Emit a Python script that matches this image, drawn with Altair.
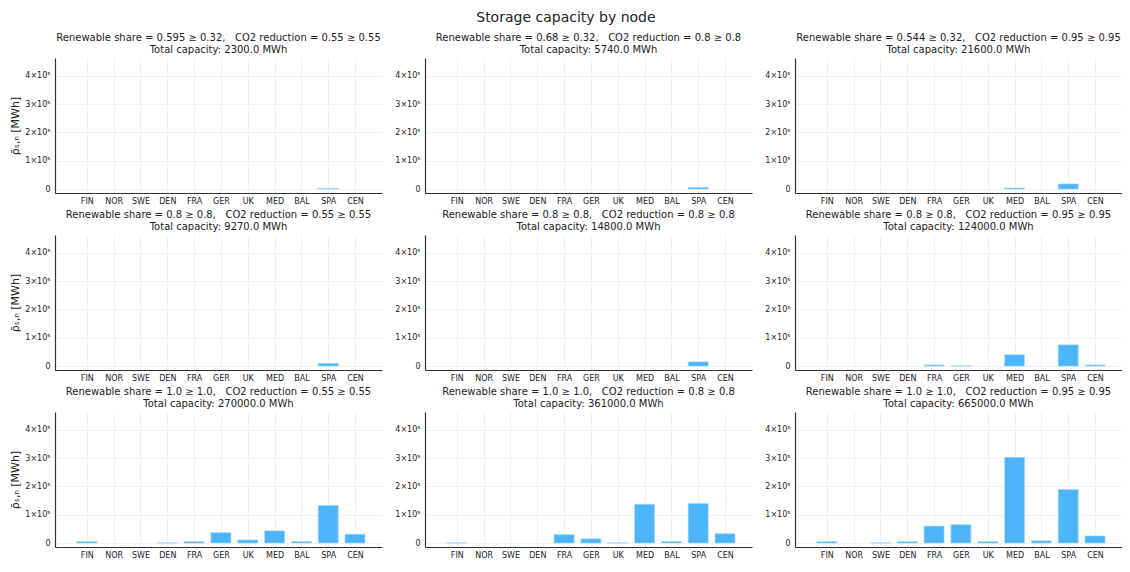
import altair as alt
import pandas as pd

nodes = ["FIN", "NOR", "SWE", "DEN", "FRA", "GER", "UK", "MED", "BAL", "SPA", "CEN"]

SEP = ",\u00a0\u00a0\u00a0"
titles = [
    ["Renewable share = 0.595 ≥ 0.32" + SEP + "CO2 reduction = 0.55 ≥ 0.55", "Total capacity: 2300.0 MWh"],
    ["Renewable share = 0.68 ≥ 0.32" + SEP + "CO2 reduction = 0.8 ≥ 0.8", "Total capacity: 5740.0 MWh"],
    ["Renewable share = 0.544 ≥ 0.32" + SEP + "CO2 reduction = 0.95 ≥ 0.95", "Total capacity: 21600.0 MWh"],
    ["Renewable share = 0.8 ≥ 0.8" + SEP + "CO2 reduction = 0.55 ≥ 0.55", "Total capacity: 9270.0 MWh"],
    ["Renewable share = 0.8 ≥ 0.8" + SEP + "CO2 reduction = 0.8 ≥ 0.8", "Total capacity: 14800.0 MWh"],
    ["Renewable share = 0.8 ≥ 0.8" + SEP + "CO2 reduction = 0.95 ≥ 0.95", "Total capacity: 124000.0 MWh"],
    ["Renewable share = 1.0 ≥ 1.0" + SEP + "CO2 reduction = 0.55 ≥ 0.55", "Total capacity: 270000.0 MWh"],
    ["Renewable share = 1.0 ≥ 1.0" + SEP + "CO2 reduction = 0.8 ≥ 0.8", "Total capacity: 361000.0 MWh"],
    ["Renewable share = 1.0 ≥ 1.0" + SEP + "CO2 reduction = 0.95 ≥ 0.95", "Total capacity: 665000.0 MWh"],
]

#            FIN   NOR  SWE   DEN   FRA    GER    UK     MED     BAL   SPA     CEN
values = [
    [0,    0,   0,    0,    0,     0,     0,     0,      0,    2300,   0],
    [0,    0,   0,    0,    0,     0,     0,     0,      0,    5740,   0],
    [0,    0,   0,    0,    0,     0,     0,     3600,   0,    18000,  0],
    [0,    0,   0,    0,    0,     0,     0,     0,      0,    9270,   0],
    [0,    0,   0,    0,    0,     0,     0,     0,      0,    14800,  0],
    [0,    0,   0,    0,    4000,  1000,  0,     40000,  0,    75000,  4000],
    [5000, 0,   0,    1000, 5000,  37000, 11000, 43000,  5000, 133000, 31000],
    [1000, 0,   0,    0,    30000, 15000, 1000,  137000, 5000, 140000, 33000],
    [5000, 0,   1000, 5000, 60000, 65000, 5000,  303000, 8000, 189000, 25000],
]

y_ticks = [0, 100000, 200000, 300000, 400000]
FONT = "DejaVu Sans"
names_js = "[" + ",".join("'%s'" % n for n in nodes) + "]"
W, H = 327, 135


def panel(i, show_ytitle):
    df = pd.DataFrame({"idx": list(range(1, len(nodes) + 1)), "node": nodes, "value": values[i]})
    return (
        alt.Chart(df)
        .transform_filter("datum.value > 0")
        .mark_bar(size=20, color="#4CB5F9", stroke="#a6d8f8", strokeWidth=0.6)
        .encode(
            x=alt.X(
                "idx:Q",
                scale=alt.Scale(domain=[0, 11.82], nice=False, zero=False),
                axis=alt.Axis(
                    values=list(range(1, len(nodes) + 1)),
                    labelExpr=names_js + "[datum.value-1]",
                    title=None,
                    grid=True,
                    ticks=False,
                    labelPadding=4,
                ),
            ),
            y=alt.Y(
                "value:Q",
                scale=alt.Scale(domain=[-14000, 463000], nice=False, zero=False),
                axis=alt.Axis(
                    values=y_ticks,
                    labelExpr="datum.value == 0 ? '0' : format(datum.value/100000, 'd') + '×10⁵'",
                    title="ρ̄ₛ,ₙ [MWh]" if show_ytitle else None,
                    titlePadding=4,
                    grid=True,
                    ticks=False,
                    labelPadding=5,
                ),
            ),
            tooltip=["node", "value"],
        )
        .properties(
            width=W,
            height=H,
            title=alt.TitleParams(
                text=titles[i], fontSize=10, font=FONT, fontWeight="normal",
                anchor="middle", color="#222222", offset=3, lineHeight=12,
            ),
        )
    )


rows = []
for r in range(3):
    rows.append(alt.hconcat(*[panel(3 * r + c, c == 0) for c in range(3)], spacing=12))

chart = (
    alt.vconcat(*rows, spacing=5)
    .properties(
        padding={"top": 3, "left": 1, "right": 0, "bottom": 0},
        title=alt.TitleParams(
            text="Storage capacity by node", fontSize=14, font=FONT,
            fontWeight="normal", anchor="middle", color="#222222", offset=8,
        ),
    )
    .configure_view(stroke=None)
    .configure_axis(
        labelFont=FONT, labelFontSize=8, labelColor="#222222",
        titleFont=FONT, titleFontSize=11, titleFontWeight="normal", titleColor="#222222",
        domainColor="#333333", domainWidth=1.2,
        gridColor="#e8e8e8", gridWidth=0.6,
    )
)

chart.save("out.html", embed_options={"renderer": "svg", "actions": False})
